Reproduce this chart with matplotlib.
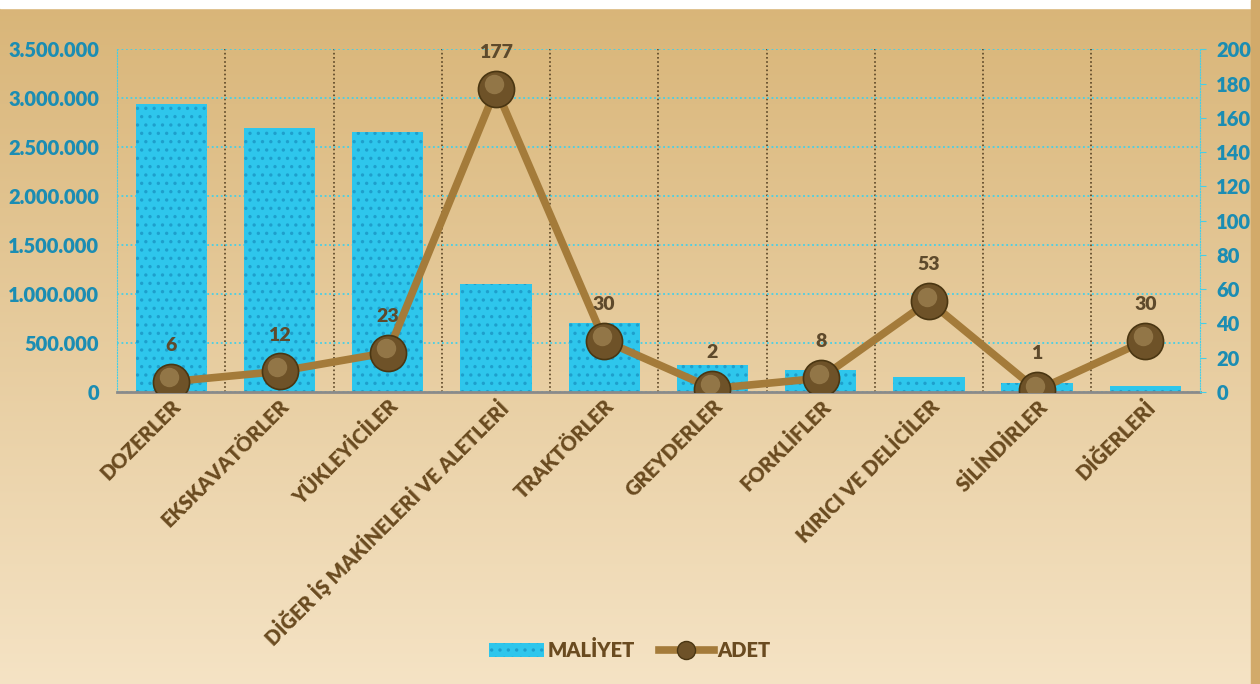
import numpy as np
import matplotlib
matplotlib.use('Agg')
import matplotlib.pyplot as plt
import matplotlib.transforms as mtransforms
from matplotlib.ticker import FuncFormatter, MultipleLocator
from matplotlib.lines import Line2D
from matplotlib.patches import Patch

plt.rcParams['font.family'] = ['Lato', 'DejaVu Sans']
plt.rcParams['font.weight'] = 'heavy'
plt.rcParams['hatch.linewidth'] = 1.2

categories = ['DOZERLER', 'EKSKAVATÖRLER', 'YÜKLEYİCİLER', 'DİĞER İŞ MAKİNELERİ VE ALETLERİ',
              'TRAKTÖRLER', 'GREYDERLER', 'FORKLİFLER', 'KIRICI VE DELİCİLER',
              'SİLİNDİRLER', 'DİĞERLERİ']
maliyet = [2940000, 2695000, 2655000, 1100000, 705000, 276000, 224000, 153000, 92000, 61000]
adet = [6, 12, 23, 177, 30, 2, 8, 53, 1, 30]

teal = '#1b8db3'
brown_txt = '#6a4b20'
line_col = '#a47b3a'

fig = plt.figure(figsize=(12.6, 6.84), dpi=100)

# background gradient
bg = fig.add_axes([0, 0, 1, 1])
bg.set_axis_off()
top = np.array([0.85, 0.71, 0.47])
bot = np.array([0.96, 0.89, 0.77])
t = np.linspace(0, 1, 256)[:, None]
grad = top * (1 - t) + bot * t
grad = np.repeat(grad[:, None, :], 2, axis=1)
bg.imshow(grad, aspect='auto', extent=[0, 1, 0, 1], origin='upper')
bg.add_patch(plt.Rectangle((0, 0.988), 1, 0.02, color='white', zorder=3))
bg.add_patch(plt.Rectangle((0.993, 0), 0.01, 1, color='#d2aa6a', zorder=3))
bg.set_xlim(0, 1)
bg.set_ylim(0, 1)

ax = fig.add_axes([0.093, 0.427, 0.859, 0.501])
ax.patch.set_alpha(0)
x = np.arange(len(categories))

ax.bar(x, maliyet, width=0.66, color='#2ec6ec', edgecolor='#1e9fcc', linewidth=0,
       hatch='..', zorder=2)
ax.set_ylim(0, 3500000)
ax.set_xlim(-0.5, len(categories) - 0.5)
ax.yaxis.set_major_locator(MultipleLocator(500000))
ax.yaxis.set_major_formatter(FuncFormatter(lambda v, p: f'{int(v):,}'.replace(',', '.')))
ax.grid(axis='y', color='#45cfe8', linestyle=(0, (1, 1.5)), linewidth=1.3, zorder=1)
for b in np.arange(0.5, len(categories) - 0.5):
    ax.axvline(b, color='#5a4525', linestyle=(0, (1, 1.5)), linewidth=1.2, zorder=1)

ax.set_xticks(x)
ax.set_xticklabels(categories, rotation=45, ha='right', rotation_mode='anchor',
                   fontsize=14.5, fontweight='heavy', color=brown_txt)
ax.tick_params(axis='x', length=0, pad=3)
ax.tick_params(axis='y', length=0, labelsize=14.5, labelcolor=teal, pad=13)
for lab in ax.get_yticklabels():
    lab.set_fontweight('heavy')
for s in ['left', 'top', 'right']:
    ax.spines[s].set_visible(False)
ax.spines['left'].set_visible(True)
ax.spines['left'].set_color('#45cfe8')
ax.spines['left'].set_linestyle((0, (1, 1.5)))
ax.spines['bottom'].set_color('#8a8a8a')
ax.spines['bottom'].set_linewidth(2)

ax2 = ax.twinx()
ax2.set_ylim(0, 200)
ax2.yaxis.set_major_locator(MultipleLocator(20))
ax2.tick_params(axis='y', length=4, color='#45cfe8', labelsize=14.5, labelcolor=teal, pad=8)
for lab in ax2.get_yticklabels():
    lab.set_fontweight('heavy')
for s in ['left', 'top', 'bottom']:
    ax2.spines[s].set_visible(False)
ax2.spines['right'].set_color('#45cfe8')
ax2.spines['right'].set_linestyle((0, (1, 1.5)))

ax2.plot(x, adet, color=line_col, linewidth=5.5, zorder=3)
ax2.plot(x, adet, linestyle='none', marker='o', markersize=26, markerfacecolor='#6e5228',
         markeredgecolor='#4a3612', markeredgewidth=1.2, zorder=4)
hl = mtransforms.offset_copy(ax2.transData, fig=fig, x=-1.5, y=3, units='points')
ax2.plot(x, adet, linestyle='none', marker='o', markersize=14, markerfacecolor='#9c8050',
         markeredgewidth=0, alpha=0.8, transform=hl, zorder=5)
for xi, v in zip(x, adet):
    ax2.annotate(str(v), (xi, v), xytext=(0, 20), textcoords='offset points',
                 ha='center', va='bottom', fontsize=14, fontweight='heavy', color='#5e4a2c', zorder=6)

handles = [Patch(facecolor='#2ec6ec', edgecolor='#1e9fcc', hatch='..', linewidth=0),
           Line2D([0], [0], color=line_col, linewidth=5.5, marker='o', markersize=13,
                  markerfacecolor='#6e5228', markeredgecolor='#4a3612')]
leg = fig.legend(handles, ['MALİYET', 'ADET'], loc='center', bbox_to_anchor=(0.5, 0.05),
                 ncol=2, frameon=False, fontsize=14.5, handlelength=2.7, columnspacing=1.2,
                 handletextpad=0.2)
for txt in leg.get_texts():
    txt.set_color(brown_txt)
    txt.set_fontweight('heavy')

fig.savefig('out.png', dpi=100)
